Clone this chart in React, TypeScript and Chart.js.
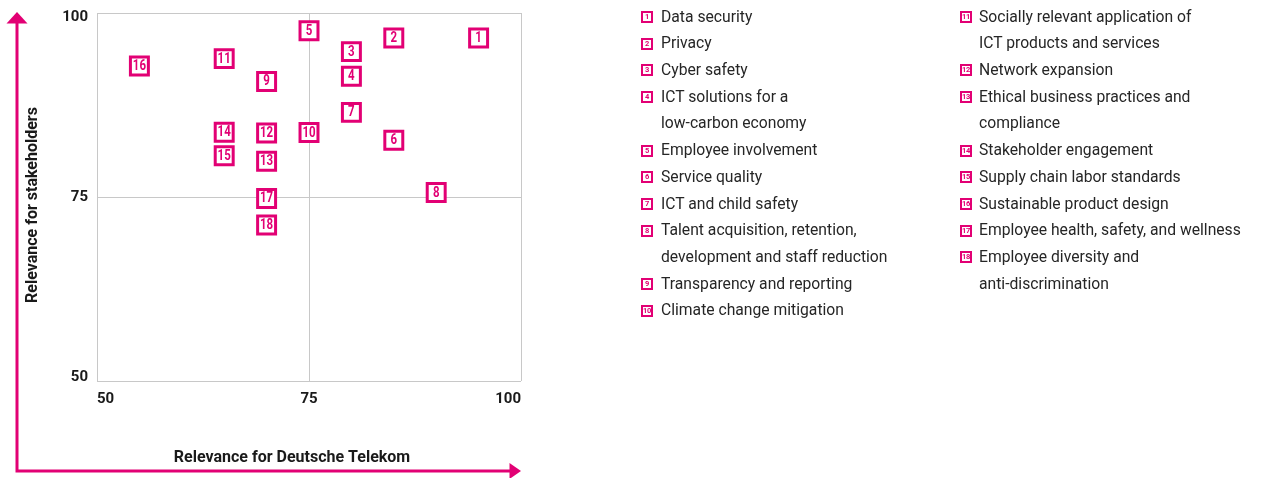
import React, { useEffect, useRef } from "react";
import { Chart, registerables } from "chart.js";

Chart.register(...registerables);

const MAGENTA = "#E20074";
const GRID = "#c8c8c8";
const TEXT = "#1a1a1a";

// Topic numbers (marker labels)
const topicIds = [1, 2, 3, 4, 5, 6, 7, 8, 9, 10, 11, 12, 13, 14, 15, 16, 17, 18];

// Relevance for Deutsche Telekom (x)
const relevanceTelekom = [95, 85, 80, 80, 75, 85, 80, 90, 70, 75, 65, 70, 70, 65, 65, 55, 70, 70];

// Relevance for stakeholders (y)
const relevanceStakeholders = [
  96.6, 96.6, 94.75, 91.4, 97.6, 82.7, 86.5, 75.6, 90.7, 83.75, 93.8, 83.7, 79.85, 83.8, 80.6, 92.8, 74.8, 71.2,
];

// Topic names (line breaks as in the legend)
const topicNames = [
  "Data security",
  "Privacy",
  "Cyber safety",
  "ICT solutions for a\nlow-carbon economy",
  "Employee involvement",
  "Service quality",
  "ICT and child safety",
  "Talent acquisition, retention,\ndevelopment and staff reduction",
  "Transparency and reporting",
  "Climate change mitigation",
  "Socially relevant application of\nICT products and services",
  "Network expansion",
  "Ethical business practices and\ncompliance",
  "Stakeholder engagement",
  "Supply chain labor standards",
  "Sustainable product design",
  "Employee health, safety, and wellness",
  "Employee diversity and\nanti-discrimination",
];

const axisTicks = [50, 75, 100];
const xTitle = "Relevance for Deutsche Telekom";
const yTitle = "Relevance for stakeholders";

const legendColumns = [
  topicIds.slice(0, 10),
  topicIds.slice(10),
];

const boxLabelPlugin = {
  id: "boxLabels",
  afterDatasetsDraw(chart: any) {
    const meta = chart.getDatasetMeta(0);
    const ctx = chart.ctx;
    ctx.save();
    ctx.fillStyle = MAGENTA;
    ctx.font = "bold 14px Roboto";
    ctx.textAlign = "center";
    ctx.textBaseline = "middle";
    meta.data.forEach((el: any, i: number) => {
      ctx.save();
      ctx.translate(el.x, el.y + 0.5);
      ctx.scale(0.82, 1);
      ctx.fillText(String(topicIds[i]), 0, 0);
      ctx.restore();
    });
    ctx.restore();
  },
};

// y tick labels, placed from the y scale, kept inside the plot height
const yTickLabelPlugin = {
  id: "yTickLabels",
  afterDraw(chart: any) {
    const ctx = chart.ctx;
    const ys = chart.scales.y;
    const area = chart.chartArea;
    ctx.save();
    ctx.fillStyle = TEXT;
    ctx.font = "bold 15px Roboto";
    ctx.textAlign = "right";
    ctx.textBaseline = "middle";
    axisTicks.forEach((v) => {
      let py = ys.getPixelForValue(v);
      py = Math.min(Math.max(py, area.top + 4.5), area.bottom - 4);
      ctx.fillText(String(v), area.left - 9, py);
    });
    ctx.restore();
  },
};

const decorPlugin = {
  id: "decor",
  afterDraw(chart: any) {
    const ctx = chart.ctx;
    ctx.save();
    // arrows
    ctx.strokeStyle = MAGENTA;
    ctx.fillStyle = MAGENTA;
    ctx.lineWidth = 3;
    ctx.lineJoin = "miter";
    ctx.beginPath();
    ctx.moveTo(17, 22);
    ctx.lineTo(17, 471);
    ctx.lineTo(511, 471);
    ctx.stroke();
    ctx.beginPath();
    ctx.moveTo(17, 12);
    ctx.lineTo(27.5, 23.5);
    ctx.lineTo(6.5, 23.5);
    ctx.closePath();
    ctx.fill();
    ctx.beginPath();
    ctx.moveTo(521, 471);
    ctx.lineTo(509.5, 463);
    ctx.lineTo(509.5, 479);
    ctx.closePath();
    ctx.fill();
    // axis titles
    ctx.fillStyle = TEXT;
    ctx.font = "bold 16px Roboto";
    ctx.textAlign = "center";
    ctx.textBaseline = "middle";
    ctx.fillText(xTitle, 292, 458);
    ctx.translate(33, 205);
    ctx.rotate(-Math.PI / 2);
    ctx.fillText(yTitle, 0, 0);
    ctx.restore();
  },
};

export default function App() {
  const canvasRef = useRef<HTMLCanvasElement | null>(null);

  useEffect(() => {
    if (!canvasRef.current) return;
    const tickFont = { family: "Roboto", weight: "bold" as const, size: 15 };
    const chart = new Chart(canvasRef.current, {
      type: "scatter",
      data: {
        datasets: [
          {
            data: relevanceTelekom.map((x, i) => ({ x, y: relevanceStakeholders[i] })),
            pointStyle: "rect",
            pointRadius: 12.7,
            pointHoverRadius: 12.7,
            pointBorderWidth: 3,
            pointHoverBorderWidth: 3,
            borderColor: MAGENTA,
            backgroundColor: "#ffffff",
            clip: false,
          } as any,
        ],
      },
      options: {
        animation: false,
        responsive: false,
        events: [],
        layout: { autoPadding: false, padding: { left: 57, right: 740, top: 13, bottom: 67 } },
        plugins: {
          legend: { display: false },
          tooltip: { enabled: false },
        },
        scales: {
          x: {
            type: "linear",
            min: 50,
            max: 100,
            afterBuildTicks: (s: any) => {
              s.ticks = axisTicks.map((v) => ({ value: v }));
            },
            afterFit: (s: any) => {
              s.height = 30;
              s.paddingLeft = 0;
              s.paddingRight = 0;
            },
            grid: { color: GRID, lineWidth: 1, drawTicks: false },
            border: { display: false },
            ticks: { align: "inner", padding: 9, font: tickFont, color: TEXT, maxRotation: 0 },
          },
          y: {
            type: "linear",
            min: 50,
            max: 100,
            afterBuildTicks: (s: any) => {
              s.ticks = axisTicks.map((v) => ({ value: v }));
            },
            afterFit: (s: any) => {
              s.width = 40;
              s.paddingTop = 0;
              s.paddingBottom = 0;
            },
            grid: { color: GRID, lineWidth: 1, drawTicks: false },
            border: { display: false },
            ticks: { display: false },
          },
        },
      } as any,
      plugins: [boxLabelPlugin, yTickLabelPlugin, decorPlugin],
    });
    return () => chart.destroy();
  }, []);

  const LINE = 26.7;
  const colLeft = [641, 960];
  const textOffset = [20, 19];

  return (
    <div
      style={{
        position: "absolute",
        left: 0,
        top: 0,
        width: 1261,
        height: 478,
        background: "#fff",
        overflow: "hidden",
      }}
    >
      <canvas
        ref={canvasRef}
        width={1261}
        height={478}
        style={{ position: "absolute", left: 0, top: 0, width: 1261, height: 478 }}
      />
      {legendColumns.map((col, ci) => (
        <div
          key={ci}
          style={{
            position: "absolute",
            left: colLeft[ci],
            top: 17 - LINE / 2,
            fontFamily: "Roboto, sans-serif",
            fontSize: 15.7,
            color: "#262626",
            lineHeight: `${LINE}px`,
            whiteSpace: "nowrap",
          }}
        >
          {col.map((id) => (
            <div key={id} style={{ position: "relative", paddingLeft: textOffset[ci] }}>
              <span
                style={{
                  position: "absolute",
                  left: 0,
                  top: (LINE - 12) / 2,
                  width: 12,
                  height: 12,
                  boxSizing: "border-box",
                  border: `2px solid ${MAGENTA}`,
                  color: MAGENTA,
                  fontSize: 7.5,
                  fontWeight: 700,
                  lineHeight: "8px",
                  textAlign: "center",
                  fontFamily: "Roboto, sans-serif",
                  letterSpacing: -0.3,
                }}
              >
                {id}
              </span>
              {topicNames[id - 1].split("\n").map((line, li) => (
                <div key={li}>{line}</div>
              ))}
            </div>
          ))}
        </div>
      ))}
    </div>
  );
}
